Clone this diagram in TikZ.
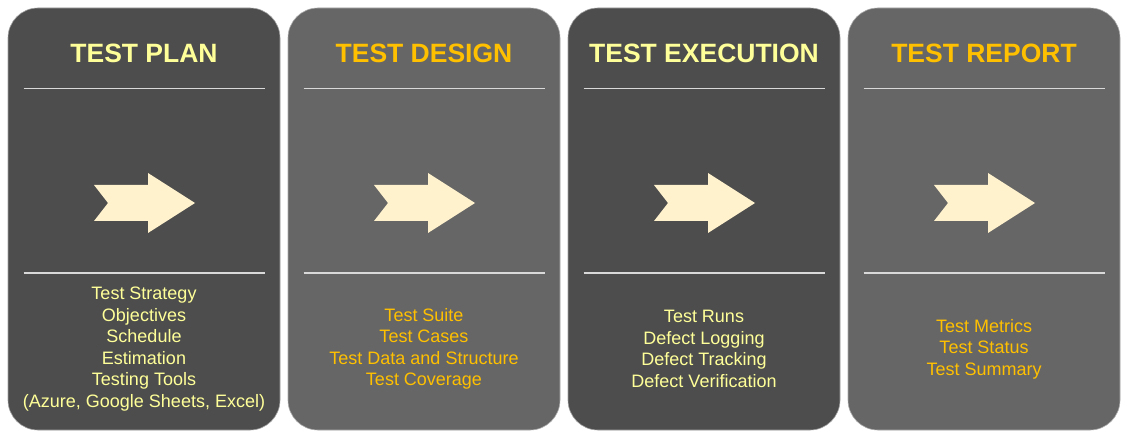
\documentclass[tikz,border=0pt]{standalone}
\usepackage{fontspec}
\setmainfont{Liberation Sans}
\usepackage{tikz}
\usetikzlibrary{positioning,calc}
\definecolor{phdark} {RGB}{ 77, 77, 77}
\definecolor{phlight}{RGB}{102,102,102}
\definecolor{phpale} {RGB}{255,255,153}
\definecolor{phgold} {RGB}{255,192,  0}
\definecolor{phrule} {RGB}{217,217,217}
\definecolor{pharrow}{RGB}{255,242,204}
\tikzset{
  panel/.style={fill=phdark,draw=phrule!60!phdark,line width=0.6pt,
    rounded corners=30pt,minimum width=272pt,minimum height=422pt,
    inner sep=0pt},
  panellight/.style={panel,fill=phlight,draw=phrule!60!phlight},
  ttl/.style={font=\fontsize{26.5}{30}\selectfont\bfseries,text=phpale},
  ttlgold/.style={ttl,text=phgold},
  items/.style={font=\fontsize{18}{21.5}\selectfont,text=phpale,
    align=center,inner sep=0pt},
  itemsgold/.style={items,text=phgold},
  rule/.style={draw=phrule,line width=1.6pt},
  bigarrow/.style={fill=pharrow},
}

\begin{document}
\begin{tikzpicture}[x=1pt,y=1pt]
  \useasboundingbox (0,0) rectangle (1131,-438);
  % phase panels
  \node[panel] at (144,-219) (plan) {};
  \node[panellight,right=7.4pt of plan] (design) {};
  \node[panel,right=7.4pt of design] (exec) {};
  \node[panellight,right=7.4pt of exec] (report) {};

  % titles
  \node[ttl] at ([yshift=-45.5pt]plan.north) (plant) {TEST PLAN};
  \node[ttlgold] at ([yshift=-45.5pt]design.north) (designt) {TEST DESIGN};
  \node[ttl] at ([yshift=-45.5pt]exec.north) (exect) {TEST EXECUTION};
  \node[ttlgold] at ([yshift=-45.5pt]report.north) (reportt) {TEST REPORT};

  % rules and arrows
  \foreach \p in {plan,design,exec,report}{
    \draw[rule] ([xshift=16pt,yshift=-81pt]\p.north west)
      -- ([xshift=-15pt,yshift=-81pt]\p.north east);
    \draw[rule] ([xshift=16pt,yshift=-265.5pt]\p.north west)
      -- ([xshift=-15pt,yshift=-265.5pt]\p.north east);
    \fill[bigarrow,shift={(\p.center)}]
      (-50,34) -- (4,34) -- (4,46) -- (51,16) -- (4,-14) -- (4,-2)
      -- (-50,-2) -- (-36,16) -- cycle;
  }

  % phase contents
  \node[items] at ([yshift=-130pt]plan.center) (plani)
    {Test Strategy\\Objectives\\Schedule\\Estimation\\Testing Tools\\
     (Azure, Google Sheets, Excel)};
  \node[itemsgold] at ([yshift=-130pt]design.center) (designi)
    {Test Suite\\Test Cases\\Test Data and Structure\\Test Coverage};
  \node[items] at ([yshift=-130pt]exec.center) (execi)
    {Test Runs\\Defect Logging\\Defect Tracking\\Defect Verification};
  \node[itemsgold] at ([yshift=-130pt]report.center) (reporti)
    {Test Metrics\\Test Status\\Test Summary};
\end{tikzpicture}
\end{document}
